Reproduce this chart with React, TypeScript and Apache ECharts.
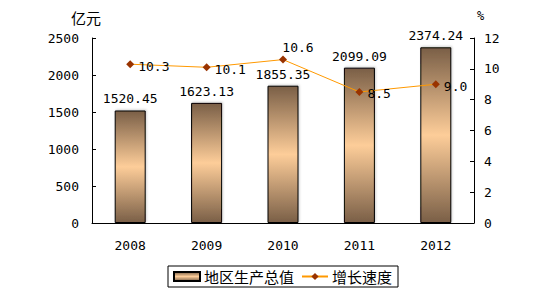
import React, { useEffect, useRef } from "react";
import * as echarts from "echarts";

const years = ["2008", "2009", "2010", "2011", "2012"];
const gdp = [1520.45, 1623.13, 1855.35, 2099.09, 2374.24];
const growth = [10.3, 10.1, 10.6, 8.5, 9.0];
const leftTicks = { min: 0, max: 2500, interval: 500 };
const rightTicks = { min: 0, max: 12, interval: 2 };
const seriesNames = ["地区生产总值", "增长速度"];

const NUM_FONT = "'DejaVu Sans Mono', 'Noto Sans CJK SC', monospace";
const CJK_FONT = "'Noto Sans CJK SC', sans-serif";

export default function App() {
  const ref = useRef<HTMLDivElement>(null);
  useEffect(() => {
    if (!ref.current) return;
    const chart = echarts.init(ref.current, undefined, { renderer: "svg" });
    const barGrad = new echarts.graphic.LinearGradient(0, 0, 0, 1, [
      { offset: 0, color: "#7a5f47" },
      { offset: 0.5, color: "#fdcd99" },
      { offset: 1, color: "#7a5f47" },
    ]);
    chart.setOption({
      animation: false,
      backgroundColor: "#ffffff",
      textStyle: { fontFamily: NUM_FONT },
      grid: { left: 92, right: 64, top: 38, bottom: 72 },
      graphic: [
        { type: "text", left: 71, top: 10, style: { text: "亿元", font: `15px ${CJK_FONT}`, fill: "#000" } },
        { type: "text", left: 477, top: 10, style: { text: "%", font: `12px ${NUM_FONT}`, fill: "#000" } },
      ],
      legend: {
        left: 168,
        top: 266,
        orient: "horizontal",
        borderColor: "#000",
        borderWidth: 1,
        padding: [3, 6, 3, 5],
        itemGap: 7,
        itemWidth: 26,
        itemHeight: 9,
        textStyle: { fontFamily: CJK_FONT, fontSize: 15, color: "#000", padding: [0, 0, 0, -1] },
        data: [
          { name: seriesNames[0], icon: "rect" },
          { name: seriesNames[1] },
        ],
      },
      xAxis: {
        type: "category",
        data: years,
        axisLine: { lineStyle: { color: "#000", width: 1 } },
        axisTick: { inside: true, length: 4, lineStyle: { color: "#000" } },
        axisLabel: { color: "#000", fontSize: 13, fontFamily: NUM_FONT, margin: 16 },
      },
      yAxis: [
        {
          type: "value",
          ...leftTicks,
          splitLine: { show: false },
          axisLine: { show: true, lineStyle: { color: "#000", width: 1 } },
          axisTick: { show: true, inside: true, length: 4, lineStyle: { color: "#000" } },
          axisLabel: {
            color: "#000",
            fontSize: 13,
            fontFamily: NUM_FONT,
            margin: 13,
            formatter: (v: number) => String(v),
          },
        },
        {
          type: "value",
          ...rightTicks,
          position: "right",
          splitLine: { show: false },
          axisLine: { show: true, lineStyle: { color: "#000", width: 1 } },
          axisTick: { show: true, inside: true, length: 4, lineStyle: { color: "#000" } },
          axisLabel: {
            color: "#000",
            fontSize: 13,
            fontFamily: NUM_FONT,
            margin: 10,
            formatter: (v: number) => String(v),
          },
        },
      ],
      series: [
        {
          name: seriesNames[0],
          type: "bar",
          yAxisIndex: 0,
          barWidth: 31,
          data: gdp,
          itemStyle: {
            color: barGrad,
            borderColor: "#000",
            borderWidth: 1,
            shadowColor: "rgba(0,0,0,0.18)",
            shadowBlur: 2,
            shadowOffsetX: 1,
            shadowOffsetY: -1,
          },
          label: {
            show: true,
            position: "top",
            distance: 5,
            color: "#000",
            fontSize: 13,
            fontFamily: NUM_FONT,
            formatter: (p: any) => p.value.toFixed(2),
          },
        },
        {
          name: seriesNames[1],
          type: "line",
          yAxisIndex: 1,
          symbol: "diamond",
          symbolSize: 8,
          data: growth.map((v, i) =>
            i === 2
              ? { value: v, label: { position: "top", offset: [15, 2] } }
              : { value: v }
          ),
          lineStyle: { color: "#ff9900", width: 1 },
          itemStyle: { color: "#993300" },
          label: {
            show: true,
            position: "right",
            distance: 4,
            offset: [0, 2],
            color: "#000",
            fontSize: 13,
            fontFamily: NUM_FONT,
            formatter: (p: any) => p.value.toFixed(1),
          },
        },
      ],
    });
    return () => chart.dispose();
  }, []);
  return (
    <div
      ref={ref}
      style={{ position: "fixed", left: 0, top: 0, width: 538, height: 295, background: "#fff" }}
    />
  );
}
